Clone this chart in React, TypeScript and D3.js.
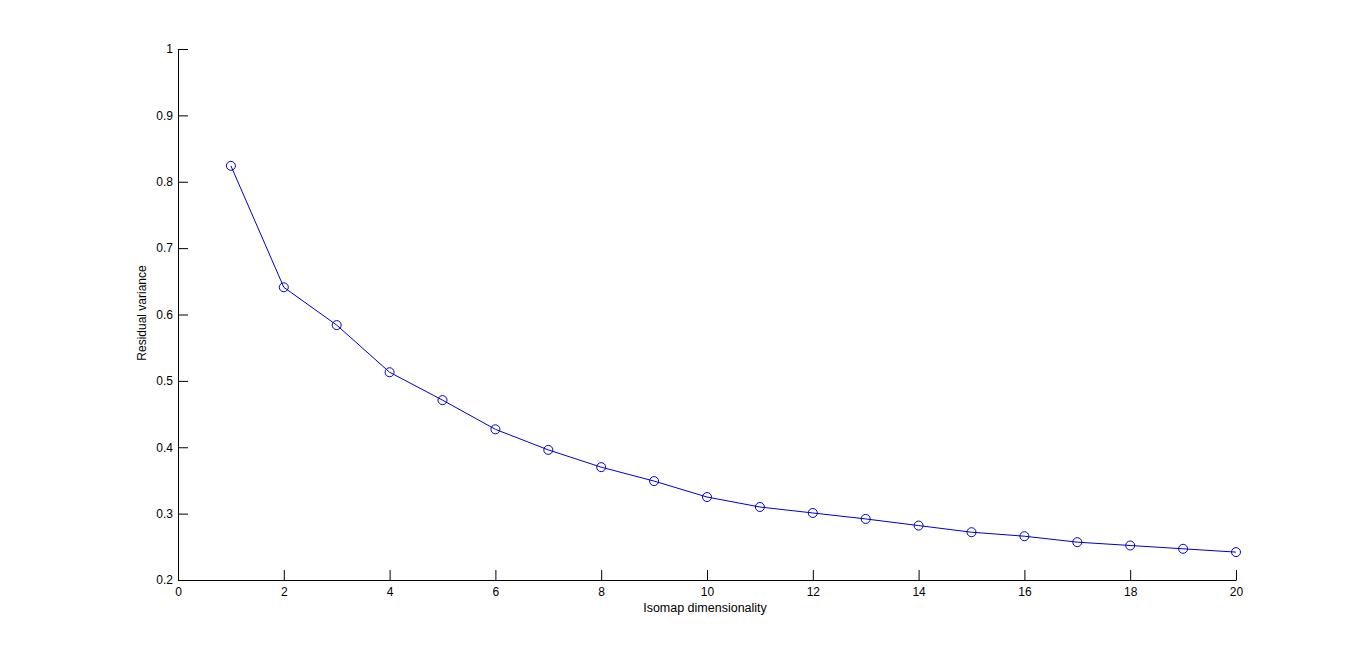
import React, { useEffect, useRef } from 'react';
import * as d3 from 'd3';

const dims = [1, 2, 3, 4, 5, 6, 7, 8, 9, 10, 11, 12, 13, 14, 15, 16, 17, 18, 19, 20];
const residual = [0.824, 0.641, 0.584, 0.513, 0.471, 0.427, 0.396, 0.370, 0.349, 0.325,
  0.310, 0.301, 0.292, 0.282, 0.272, 0.266, 0.257, 0.252, 0.247, 0.242];
const xTicks = [0, 2, 4, 6, 8, 10, 12, 14, 16, 18, 20];
const yTicks = [0.2, 0.3, 0.4, 0.5, 0.6, 0.7, 0.8, 0.9, 1];

const W = 1366, H = 652;

const App = () => {
  const ref = useRef<SVGSVGElement>(null);

  useEffect(() => {
    const svg = d3.select(ref.current);
    svg.selectAll('*').remove();

    const x = d3.scaleLinear().domain([0, 20]).range([178, 1236]);
    const y = d3.scaleLinear().domain([0.2, 1]).range([580, 49]);
    const font = 'Liberation Sans, Arial, sans-serif';

    // axes, ticks pointing inward like matlab
    const gx = svg.append('g').attr('transform', 'translate(0,580)')
      .call(d3.axisBottom(x).tickValues(xTicks).tickSizeInner(-10).tickSizeOuter(0).tickPadding(7).tickFormat(d3.format('d')));
    const gy = svg.append('g').attr('transform', 'translate(178,0)')
      .call(d3.axisLeft(y).tickValues(yTicks).tickSizeInner(-10).tickSizeOuter(0).tickPadding(5).tickFormat((d: any) => String(+d)));
    [gx, gy].forEach(g => {
      g.select('.domain').attr('stroke', '#000').attr('stroke-width', 1);
      g.selectAll('.tick line').attr('stroke', '#000');
      g.selectAll('.tick text').attr('fill', '#000').style('font-family', font).style('font-size', '12px');
    });

    const data = dims.map((d, i) => ({ d, v: residual[i] }));

    svg.append('path')
      .datum(data)
      .attr('d', d3.line<any>().x(p => x(p.d)).y(p => y(p.v)))
      .attr('fill', 'none')
      .attr('stroke', '#0000c8')
      .attr('stroke-width', 1);

    svg.selectAll('.dot')
      .data(data)
      .enter().append('circle')
      .attr('class', 'dot')
      .attr('cx', p => x(p.d))
      .attr('cy', p => y(p.v))
      .attr('r', 4.5)
      .attr('fill', 'none')
      .attr('stroke', '#0000c8')
      .attr('stroke-width', 1);

    svg.append('text')
      .attr('x', 705).attr('y', 612)
      .attr('text-anchor', 'middle')
      .style('font-family', font).style('font-size', '12.5px')
      .text('Isomap dimensionality');

    svg.append('text')
      .attr('transform', 'translate(146,313) rotate(-90)')
      .attr('text-anchor', 'middle')
      .style('font-family', font).style('font-size', '12px')
      .text('Residual variance');
  }, []);

  return (
    <svg ref={ref} width={W} height={H}
      style={{ position: 'absolute', left: 0, top: 0, background: '#fff' }} />
  );
};

export default App;
